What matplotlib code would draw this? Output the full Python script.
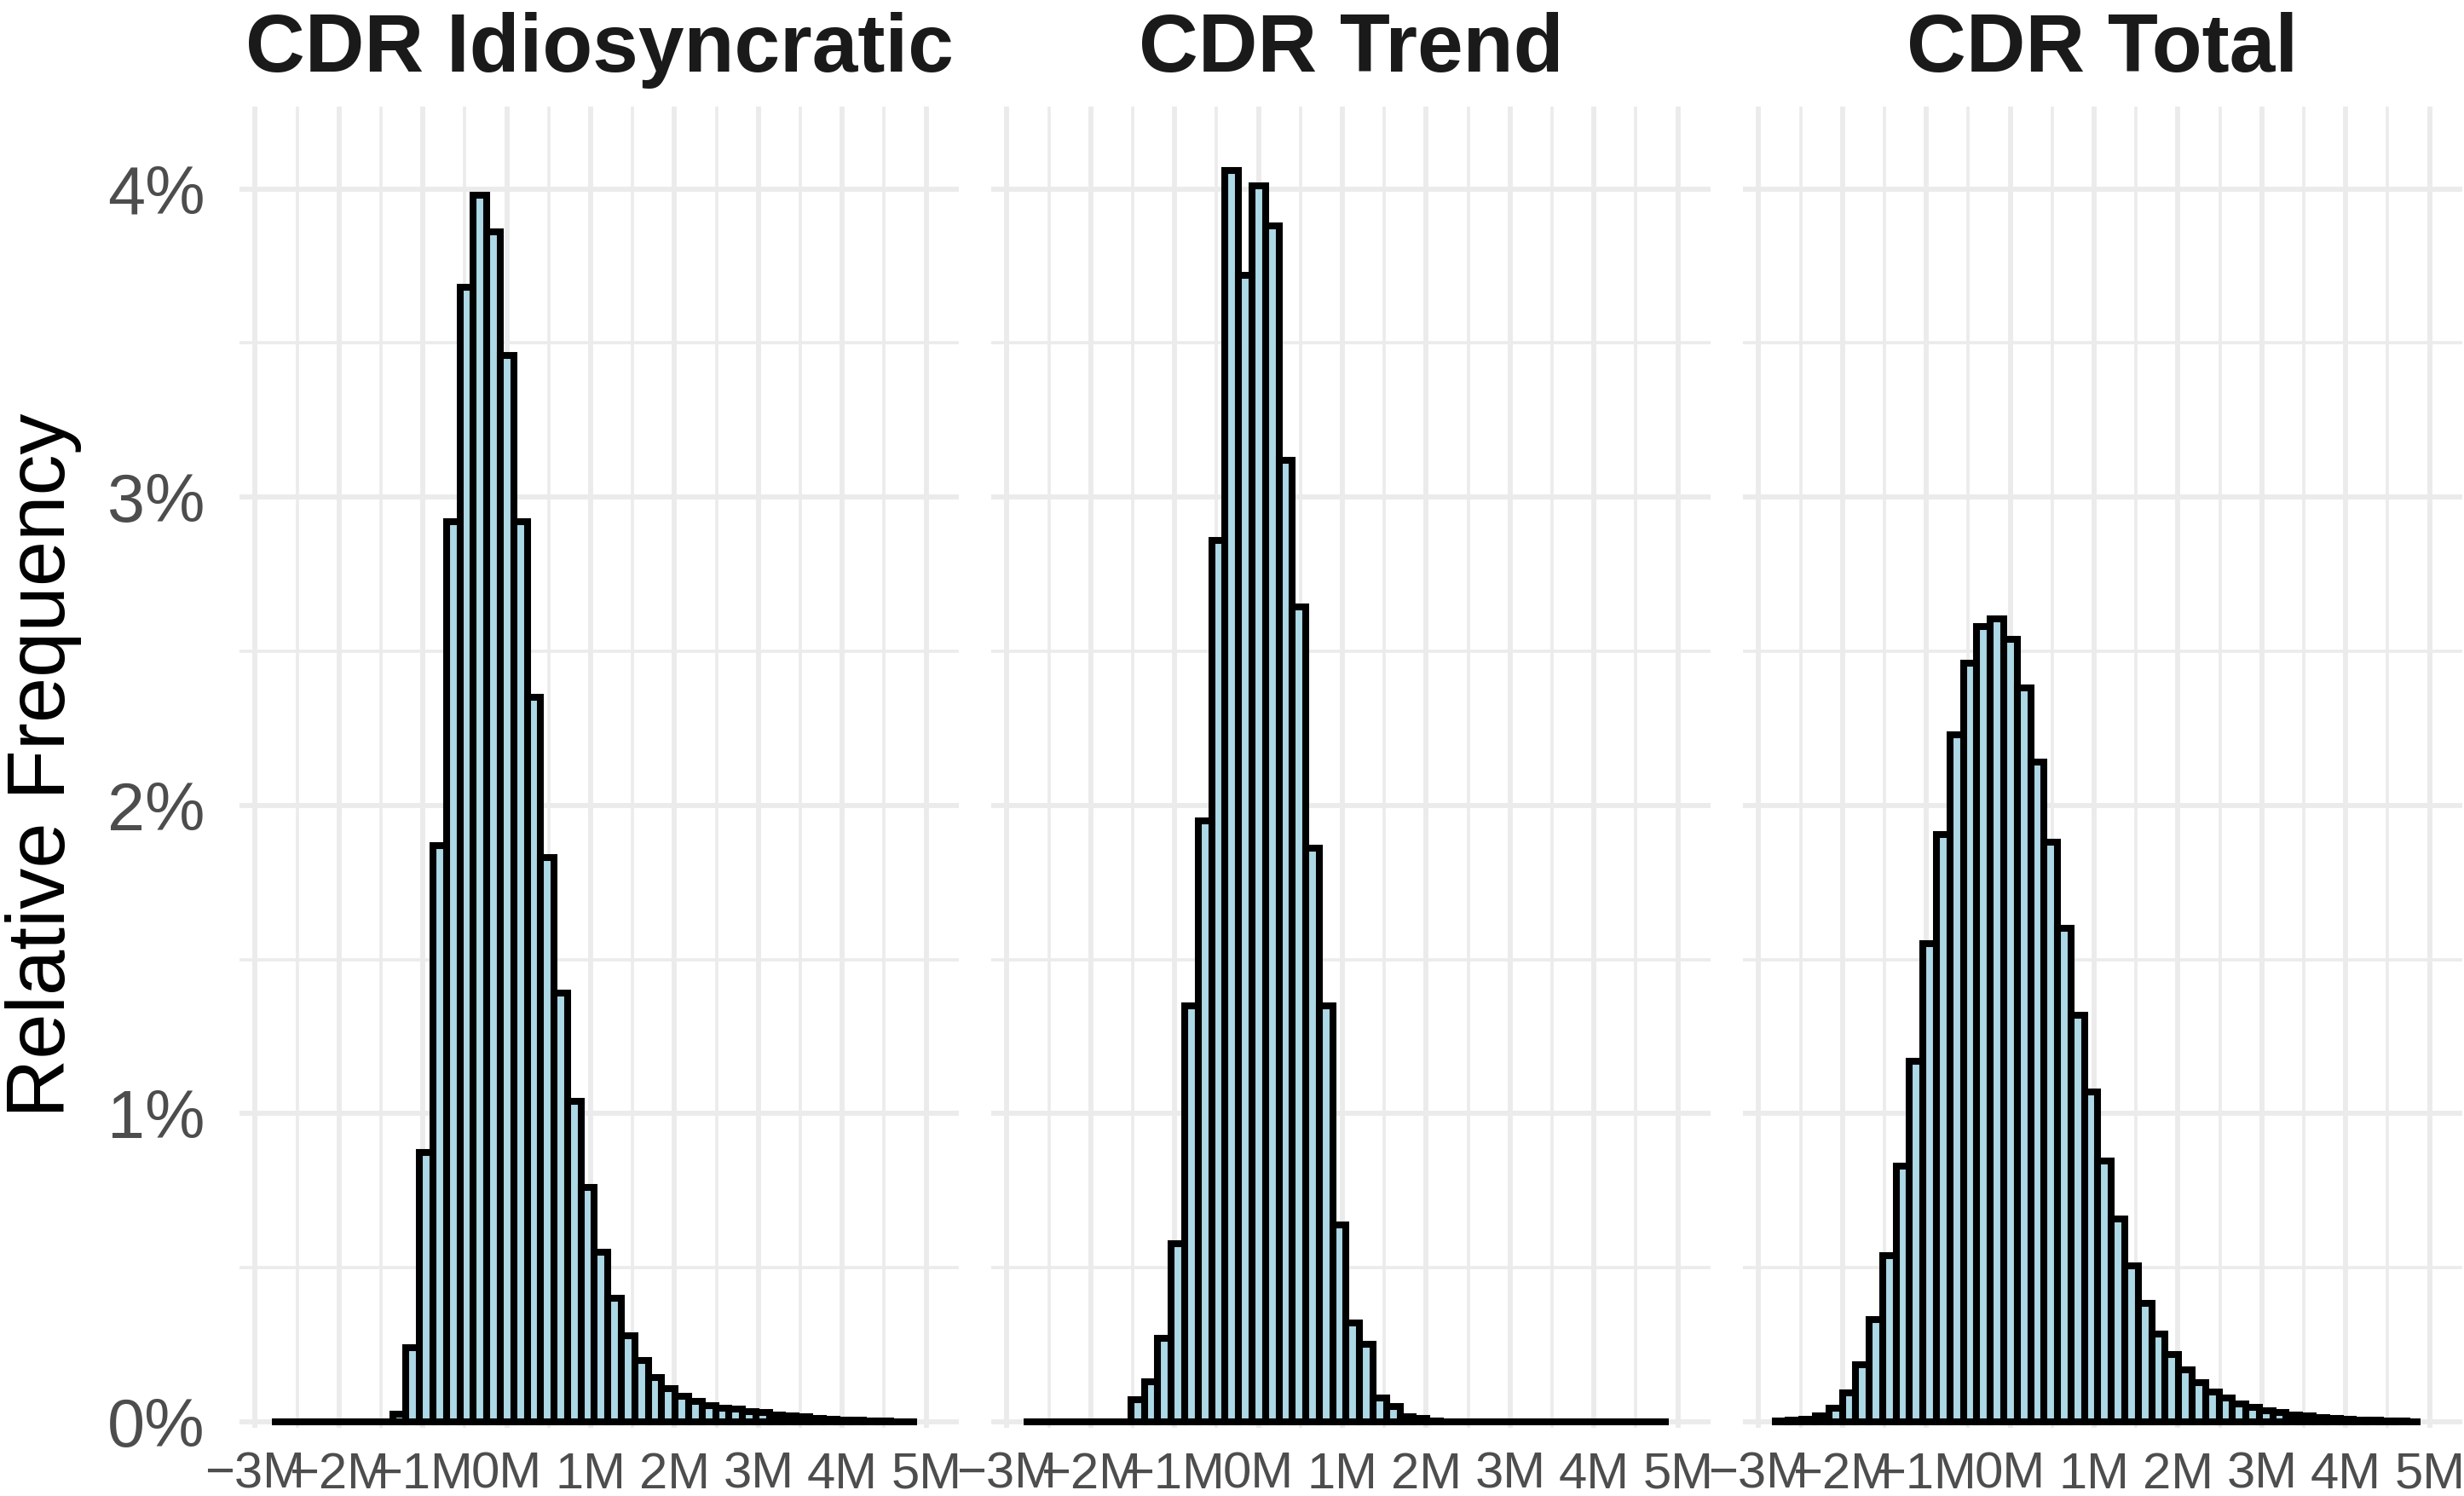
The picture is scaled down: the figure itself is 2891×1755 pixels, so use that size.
import numpy as np
import matplotlib.pyplot as plt
from matplotlib.ticker import MultipleLocator, FuncFormatter

plt.rcParams['font.family'] = ['Liberation Sans', 'DejaVu Sans']

# histogram bins shared by all facets (in millions)
bin_lo = -2.804
bin_hi = 4.894
n_bins = 48

titles = ['CDR Idiosyncratic', 'CDR Trend', 'CDR Total']

# relative frequency of each bin, in percent
idio = [0, 0, 0, 0, 0, 0, 0, 0, 0, 0.026,
        0.24, 0.875, 1.87, 2.92, 3.68, 3.98, 3.86, 3.46, 2.92, 2.35,
        1.83, 1.39, 1.04, 0.76, 0.55, 0.40, 0.28, 0.20, 0.145, 0.108,
        0.082, 0.065, 0.053, 0.045, 0.041, 0.034, 0.029, 0.023, 0.019, 0.016,
        0.012, 0.009, 0.006, 0.005, 0.003, 0.002, 0.001, 0.0005]
trend = [0, 0, 0, 0, 0, 0, 0, 0, 0.072, 0.13,
         0.27, 0.577, 1.35, 1.95, 2.86, 4.06, 3.72, 4.01, 3.88, 3.12,
         2.645, 1.86, 1.35, 0.64, 0.32, 0.252, 0.077, 0.05, 0.0175, 0.012,
         0.003, 0, 0, 0, 0, 0, 0, 0, 0, 0,
         0, 0, 0, 0, 0, 0, 0, 0]
total = [0.002, 0.005, 0.008, 0.018, 0.043, 0.094, 0.186, 0.331, 0.54, 0.83,
         1.17, 1.55, 1.905, 2.23, 2.46, 2.58, 2.605, 2.54, 2.38, 2.14,
         1.88, 1.60, 1.32, 1.07, 0.847, 0.658, 0.506, 0.385, 0.285, 0.218,
         0.168, 0.126, 0.096, 0.076, 0.059, 0.046, 0.037, 0.029, 0.023, 0.018,
         0.015, 0.012, 0.009, 0.0065, 0.0046, 0.0037, 0.002, 0.001]

series = [idio, trend, total]
edges = np.linspace(bin_lo, bin_hi, n_bins + 1)

W, H = 2891, 1755
fig = plt.figure(figsize=(W / 100, H / 100), dpi=100)

lefts = [281, 1163, 2045]
pw = 844
top_px, bot_px = 125.4, 1675.2
grid_col = '#EBEBEB'

xfmt = FuncFormatter(lambda v, p: f"{int(round(v))}M".replace('-', '\u2212'))
yfmt = FuncFormatter(lambda v, p: f"{int(round(v))}%")

for i, (title, vals) in enumerate(zip(titles, series)):
    ax = fig.add_axes([lefts[i] / W, (H - bot_px) / H, pw / W, (bot_px - top_px) / H])
    ax.set_axisbelow(True)
    ax.bar(edges[:-1], vals, width=np.diff(edges), align='edge',
           color='#ADD8E6', edgecolor='black', linewidth=5.8, zorder=3)

    ax.set_xlim(-3.186, 5.389)
    ax.set_ylim(-0.02, 4.266)
    ax.xaxis.set_major_locator(MultipleLocator(1))
    ax.xaxis.set_minor_locator(MultipleLocator(0.5))
    ax.yaxis.set_major_locator(MultipleLocator(1))
    ax.yaxis.set_minor_locator(MultipleLocator(0.5))
    ax.xaxis.set_major_formatter(xfmt)
    ax.yaxis.set_major_formatter(yfmt)

    ax.grid(which='major', color=grid_col, linewidth=4.2)
    ax.grid(which='minor', color=grid_col, linewidth=2.6)
    for s in ax.spines.values():
        s.set_visible(False)

    ax.tick_params(which='both', length=0)
    ax.tick_params(axis='x', labelsize=43, labelcolor='#4D4D4D', pad=20)
    ax.tick_params(axis='y', labelsize=57, labelcolor='#4D4D4D', pad=29)
    if i > 0:
        ax.tick_params(axis='y', labelleft=False)

    ax.set_title(title, fontsize=69.5, fontweight='bold', color='#1A1A1A', pad=30)

fig.text(51.5 / W, 1 - 898 / H, 'Relative Frequency', rotation=90,
         ha='center', va='center', fontsize=69, color='black')

fig.savefig('out.png', dpi=100)
